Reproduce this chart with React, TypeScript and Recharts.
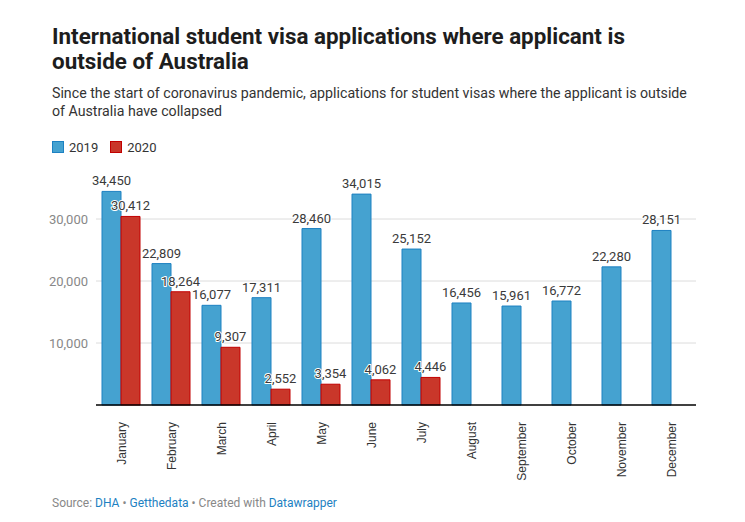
import React from "react";
import { BarChart, Bar, XAxis, YAxis, CartesianGrid, LabelList } from "recharts";

const months = ["January","February","March","April","May","June","July","August","September","October","November","December"];
const values2019 = [34450,22809,16077,17311,28460,34015,25152,16456,15961,16772,22280,28151];
const values2020: (number | null)[] = [30412,18264,9307,2552,3354,4062,4446,null,null,null,null,null];
const yTicks = [10000,20000,30000];

const data = months.map((m, i) => ({ month: m, y2019: values2019[i], y2020: values2020[i] }));

const FONT = "Roboto, 'Noto Sans', sans-serif";
const TICK_FONT = "'Liberation Sans', Arial, sans-serif";

const fmt = (v: number) => v.toLocaleString("en-US");

const ValueLabel = (props: any) => {
  const { x, y, width, value } = props;
  if (value == null) return null;
  return (
    <text
      x={x + width / 2}
      y={y - 6}
      textAnchor="middle"
      fontFamily={FONT}
      fontSize={13}
      fill="#3a3a3a"
      stroke="#fff"
      strokeWidth={2}
      strokeLinejoin="round"
      style={{ paintOrder: "stroke" } as any}
    >
      {fmt(value)}
    </text>
  );
};

const XTick = (props: any) => {
  const { x, y, payload } = props;
  return (
    <text
      x={x}
      y={y}
      transform={`rotate(-90, ${x}, ${y})`}
      textAnchor="end"
      dominantBaseline="central"
      fontFamily={TICK_FONT}
      fontSize={12}
      fill="#333"
      dx={-9}
      dy={1}
    >
      {payload.value}
    </text>
  );
};

export default function App() {
  return (
    <div style={{ position: "fixed", left: 0, top: 0, width: 745, height: 522, background: "#fff", fontFamily: FONT }}>
      <div style={{ position: "absolute", left: 52, top: 24, width: 610, fontSize: 22.4, fontWeight: 700, lineHeight: "25px", color: "#1d1d1d" }}>
        International student visa applications where applicant is outside of Australia
      </div>
      <div style={{ position: "absolute", left: 52, top: 84, width: 640, fontSize: 14.2, lineHeight: "18px", color: "#333" }}>
        Since the start of coronavirus pandemic, applications for student visas where the applicant is outside of Australia have collapsed
      </div>
      <div style={{ position: "absolute", left: 52, top: 139, fontSize: 13, color: "#333", display: "flex", alignItems: "center", height: 16 }}>
        <span style={{ display: "inline-block", width: 12, height: 12, background: "#45a2d0", border: "1px solid #1d81c2", boxSizing: "border-box", marginRight: 5 }} />
        <span style={{ marginRight: 12 }}>2019</span>
        <span style={{ display: "inline-block", width: 12, height: 12, background: "#c9372a", border: "1px solid #c20000", boxSizing: "border-box", marginRight: 5 }} />
        <span>2020</span>
      </div>
      <div style={{ position: "absolute", left: 0, top: 0 }}>
        <BarChart
          width={745}
          height={522}
          data={data}
          margin={{ top: 188, right: 49, bottom: 0, left: 0 }}
          barGap={0}
          barCategoryGap={6}
        >
          <CartesianGrid vertical={false} stroke="#dcdcdc" horizontalValues={yTicks} />
          <YAxis
            width={96}
            domain={[0, 35000]}
            ticks={yTicks}
            tickFormatter={fmt}
            axisLine={false}
            tickLine={false}
            tick={{ fontFamily: FONT, fontSize: 13, fill: "#888" }}
          />
          <XAxis
            dataKey="month"
            interval={0}
            tickLine={false}
            axisLine={{ stroke: "#000", strokeWidth: 1.5 }}
            tick={<XTick />}
            height={117}
          />
          <Bar dataKey="y2019" fill="#45a2d0" stroke="#1d81c2" strokeWidth={1} isAnimationActive={false}>
            <LabelList dataKey="y2019" content={<ValueLabel />} />
          </Bar>
          <Bar dataKey="y2020" fill="#c9372a" stroke="#c20000" strokeWidth={1} isAnimationActive={false}>
            <LabelList dataKey="y2020" content={<ValueLabel />} />
          </Bar>
        </BarChart>
      </div>
      <div style={{ position: "absolute", left: 52, top: 496, fontSize: 12, color: "#888" }}>
        Source: <span style={{ color: "#1d81c2" }}>DHA</span> • <span style={{ color: "#1d81c2" }}>Getthedata</span> • Created with <span style={{ color: "#1d81c2" }}>Datawrapper</span>
      </div>
    </div>
  );
}
